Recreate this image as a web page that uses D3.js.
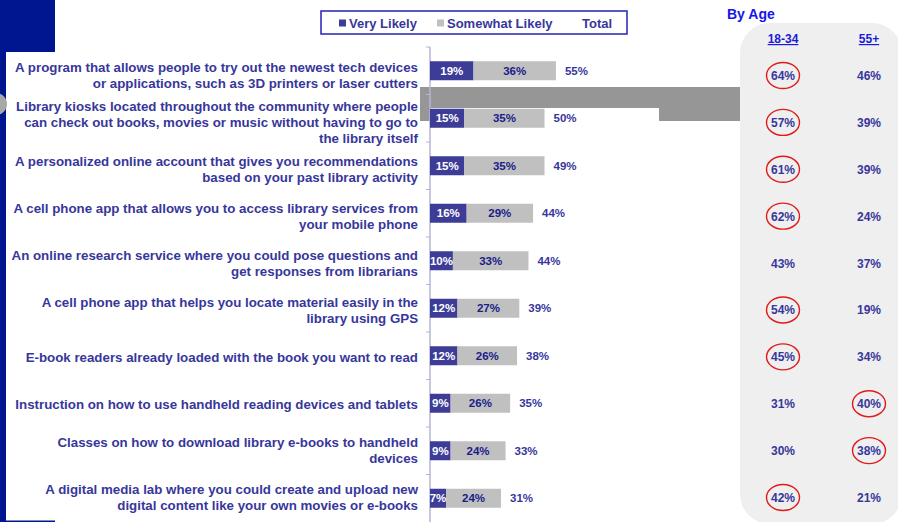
<!DOCTYPE html>
<html>
<head>
<meta charset="utf-8">
<script src="https://cdn.jsdelivr.net/npm/d3@7"></script>
<style>
  html, body { margin: 0; padding: 0; background: #fff; }
  svg { display: block; font-family: "Liberation Sans", Arial, sans-serif; font-weight: bold; }
</style>
</head>
<body>
<div id="app"></div>
<script>
const categories = [
  ['A program that allows people to try out the newest tech devices', 'or applications, such as 3D printers or laser cutters'],
  ['Library kiosks located throughout the community where people', 'can check out books, movies or music without having to go to', 'the library itself'],
  ['A personalized online account that gives you recommendations', 'based on your past library activity'],
  ['A cell phone app that allows you to access library services from', 'your mobile phone'],
  ['An online research service where you could pose questions and', 'get responses from librarians'],
  ['A cell phone app that helps you locate material easily in the', 'library using GPS'],
  ['E-book readers already loaded with the book you want to read'],
  ['Instruction on how to use handheld reading devices and tablets'],
  ['Classes on how to download library e-books to handheld', 'devices'],
  ['A digital media lab where you could create and upload new', 'digital content like your own movies or e-books']
];
const veryLikely = [19, 15, 15, 16, 10, 12, 12, 9, 9, 7];
const somewhatLikely = [36, 35, 35, 29, 33, 27, 26, 26, 24, 24];
const total = [55, 50, 49, 44, 44, 39, 38, 35, 33, 31];
const age1834 = [64, 57, 61, 62, 43, 54, 45, 31, 30, 42];
const age55plus = [46, 39, 39, 24, 37, 19, 34, 40, 38, 21];
const circled1834 = [true, true, true, true, false, true, true, false, false, true];
const circled55plus = [false, false, false, false, false, false, false, true, true, false];
const ageGroups = ['18-34', '55+'];
const legendLabels = ['Very Likely', 'Somewhat Likely', 'Total'];

const W = 898, H = 522;
const navy = '#001590';
const textBlue = '#37379b';
const vlColor = '#3d3d98';
const swColor = '#c0c0c0';

const svg = d3.select('#app').append('svg')
  .attr('width', W)
  .attr('height', H);

// slide frame
svg.append('rect').attr('x', 0).attr('y', 0).attr('width', 55).attr('height', 52).attr('fill', navy);
svg.append('rect').attr('x', 0).attr('y', 0).attr('width', 6).attr('height', H).attr('fill', navy);
svg.append('rect').attr('x', 0).attr('y', 520.5).attr('width', 55).attr('height', 2).attr('fill', navy);
svg.append('circle').attr('cx', -4).attr('cy', 104).attr('r', 11).attr('fill', '#a8a8a8');

// grey strip behind second row
svg.append('rect').attr('x', 420).attr('y', 87).attr('width', 320).attr('height', 34).attr('fill', '#969696');
svg.append('rect').attr('x', 430).attr('y', 108).attr('width', 229).attr('height', 13).attr('fill', '#fff');

// by age panel
svg.append('rect')
  .attr('x', 740).attr('y', 23)
  .attr('width', 162).attr('height', 501)
  .attr('rx', 30)
  .attr('fill', '#efefef');

const x0 = 430;
const x = d3.scaleLinear().domain([0, 100]).range([0, 229]);

const y = d3.scaleBand()
  .domain(d3.range(categories.length))
  .range([47, 522])
  .paddingInner(0.6)
  .paddingOuter(0.3);

const yLabel = d3.scalePoint()
  .domain(d3.range(categories.length))
  .range([75.5, 497.5]);

// axis with ticks at band boundaries
const axisG = svg.append('g').attr('transform', `translate(${x0},0)`);
axisG.append('line')
  .attr('x1', 0).attr('x2', 0)
  .attr('y1', 47).attr('y2', 522)
  .attr('stroke', '#b4b4d6').attr('stroke-width', 1.5);
axisG.selectAll('.tick')
  .data(d3.range(categories.length))
  .join('line')
  .attr('x1', -4).attr('x2', 0)
  .attr('y1', d => y(d) - y.step() * y.paddingOuter())
  .attr('y2', d => y(d) - y.step() * y.paddingOuter())
  .attr('stroke', '#b4b4d6').attr('stroke-width', 1);

// category labels
const labels = svg.append('g');
categories.forEach((lines, i) => {
  const cy = yLabel(i);
  const t = labels.append('text')
    .attr('text-anchor', 'end')
    .attr('font-size', 13.3)
    .attr('fill', textBlue);
  lines.forEach((line, j) => {
    t.append('tspan')
      .attr('x', 418)
      .attr('y', cy + (j - (lines.length - 1) / 2) * 16 + 4.8)
      .text(line);
  });
});

const rows = svg.append('g').selectAll('g')
  .data(categories.map((c, i) => i))
  .join('g');

rows.append('rect')
  .attr('x', x0)
  .attr('y', i => y(i))
  .attr('width', i => x(veryLikely[i]))
  .attr('height', y.bandwidth())
  .attr('fill', vlColor);

rows.append('rect')
  .attr('x', i => x0 + x(veryLikely[i]))
  .attr('y', i => y(i))
  .attr('width', i => x(somewhatLikely[i]))
  .attr('height', y.bandwidth())
  .attr('fill', swColor);

rows.append('text')
  .attr('x', i => x0 + x(veryLikely[i]) / 2)
  .attr('y', i => y(i) + y.bandwidth() / 2 + 4)
  .attr('text-anchor', 'middle')
  .attr('font-size', 11.5)
  .attr('fill', '#fff')
  .text(i => veryLikely[i] + '%');

rows.append('text')
  .attr('x', i => x0 + x(veryLikely[i]) + x(somewhatLikely[i]) / 2)
  .attr('y', i => y(i) + y.bandwidth() / 2 + 4)
  .attr('text-anchor', 'middle')
  .attr('font-size', 11.5)
  .attr('fill', '#1b1b8a')
  .text(i => somewhatLikely[i] + '%');

rows.append('text')
  .attr('x', i => x0 + x(veryLikely[i] + somewhatLikely[i]) + 9)
  .attr('y', i => y(i) + y.bandwidth() / 2 + 4)
  .attr('font-size', 11.5)
  .attr('fill', textBlue)
  .text(i => total[i] + '%');

// legend
const legend = svg.append('g');
legend.append('rect')
  .attr('x', 321).attr('y', 11)
  .attr('width', 306).attr('height', 23)
  .attr('fill', '#fff')
  .attr('stroke', '#2222bb').attr('stroke-width', 1.5);
const legendX = [339, 437, 582];
const legendColors = [vlColor, swColor, null];
legendLabels.forEach((lab, i) => {
  if (legendColors[i]) {
    legend.append('rect')
      .attr('x', legendX[i]).attr('y', 19.5)
      .attr('width', 7).attr('height', 7)
      .attr('fill', legendColors[i]);
  }
  legend.append('text')
    .attr('x', legendColors[i] ? legendX[i] + 10 : legendX[i])
    .attr('y', 27.5)
    .attr('font-size', 13)
    .attr('fill', textBlue)
    .text(lab);
});

// by age
svg.append('text')
  .attr('x', 727).attr('y', 19)
  .attr('font-size', 14)
  .attr('fill', '#1515ee')
  .text('By Age');

const ageX = d3.scalePoint().domain(ageGroups).range([783, 869]);

svg.append('g').selectAll('text')
  .data(ageGroups)
  .join('text')
  .attr('x', d => ageX(d))
  .attr('y', 43)
  .attr('text-anchor', 'middle')
  .attr('font-size', 12)
  .attr('fill', '#1a1add')
  .attr('text-decoration', 'underline')
  .text(d => d);

const ageCols = [
  { key: '18-34', values: age1834, circled: circled1834 },
  { key: '55+', values: age55plus, circled: circled55plus }
];

ageCols.forEach(col => {
  const g = svg.append('g');
  g.selectAll('ellipse')
    .data(d3.range(col.values.length).filter(i => col.circled[i]))
    .join('ellipse')
    .attr('cx', ageX(col.key))
    .attr('cy', i => yLabel(i))
    .attr('rx', 16.5)
    .attr('ry', 13)
    .attr('fill', 'none')
    .attr('stroke', '#e21a1a')
    .attr('stroke-width', 1.4);
  g.selectAll('text')
    .data(col.values)
    .join('text')
    .attr('x', ageX(col.key))
    .attr('y', (d, i) => yLabel(i) + 4.5)
    .attr('text-anchor', 'middle')
    .attr('font-size', 12)
    .attr('fill', textBlue)
    .text(d => d + '%');
});
</script>
</body>
</html>
